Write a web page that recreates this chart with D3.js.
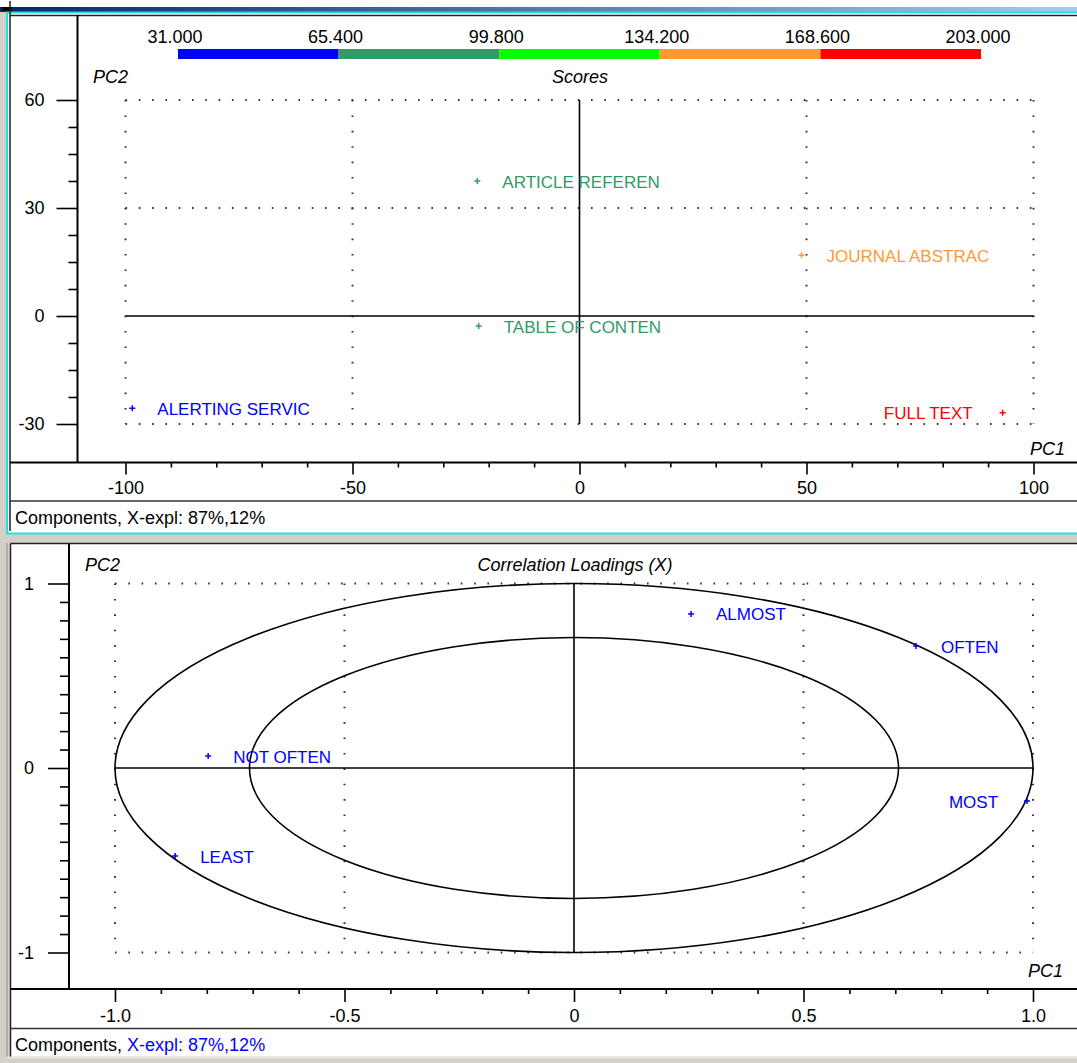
<!DOCTYPE html>
<html><head><meta charset="utf-8">
<script src="https://cdn.jsdelivr.net/npm/d3@7"></script>
<style>
html,body{margin:0;padding:0;background:#d4d0c8;}
svg{display:block;font-family:"Liberation Sans",Arial,sans-serif;}
</style></head>
<body>
<script>
// ---------- data ----------
const scoreNames = ["ALERTING SERVIC","ARTICLE REFEREN","TABLE OF CONTEN","JOURNAL ABSTRAC","FULL TEXT"];
const scorePC1   = [-98.5, -22.5, -22.2, 48.9, 93.2];
const scorePC2   = [-25.6, 37.5, -2.8, 16.9, -26.9];
const scoreBand  = [0, 1, 1, 3, 4];

const bandTicks  = [31.0, 65.4, 99.8, 134.2, 168.6, 203.0];
const bandColors = ["#0000ff","#339966","#00ff00","#ff9933","#ff0000"];

const loadNames = ["ALMOST","OFTEN","MOST","NOT OFTEN","LEAST"];
const loadPC1   = [0.255, 0.745, 0.987, -0.797, -0.869];
const loadPC2   = [0.835, 0.661, -0.179, 0.065, -0.477];
const circleRadii = [1.0, 0.707];

const topXTicks = [-100,-50,0,50,100];
const topXMinor = [-90,-80,-70,-60,-40,-30,-20,-10,10,20,30,40,60,70,80,90];
const topYTicks = [60,30,0,-30];
const topYMinor = [52.5,45,37.5,22.5,15,7.5,-7.5,-15,-22.5];
const topGridX = [-100,-50,50,100];
const topGridY = [60,30,-30];

const botXTicks = [-1,-0.5,0,0.5,1];
const botXMinor = [-0.9,-0.8,-0.7,-0.6,-0.4,-0.3,-0.2,-0.1,0.1,0.2,0.3,0.4,0.6,0.7,0.8,0.9];
const botYTicks = [1,0,-1];
const botYMinor = [0.9,0.8,0.7,0.6,0.5,0.4,0.3,0.2,0.1,-0.1,-0.2,-0.3,-0.4,-0.5,-0.6,-0.7,-0.8,-0.9];
const botGridX = [-1,-0.5,0.5,1];
const botGridY = [1,-1];

const statusText = ["Components, ","X-expl: 87%,12%"];

// ---------- setup ----------
const W = 1077, H = 1063;
const svg = d3.select("body").append("svg").attr("width",W).attr("height",H);
const defs = svg.append("defs");
const grad = defs.append("linearGradient").attr("id","tb").attr("x1","0").attr("x2","1");
grad.append("stop").attr("offset","0").attr("stop-color","#0a246a");
grad.append("stop").attr("offset","1").attr("stop-color","#a6caf0");

const hy = s => s.replace("\u2212","-");
const intFmt = d => hy(d3.format("d")(d));

// window chrome
svg.append("rect").attr("x",0).attr("y",0).attr("width",W).attr("height",H).attr("fill","#d4d0c8");
svg.append("rect").attr("x",0).attr("y",0).attr("width",W).attr("height",7).attr("fill","#ffffff");
svg.append("rect").attr("x",0).attr("y",7).attr("width",W).attr("height",5).attr("fill","url(#tb)");
svg.append("rect").attr("x",2).attr("y",7).attr("width",10).attr("height",4).attr("fill","#000");

// top panel
svg.append("rect").attr("x",7).attr("y",12.5).attr("width",W).attr("height",521).attr("fill","#fff")
  .attr("stroke","#22e0e0").attr("stroke-width",2);
svg.append("path").attr("d","M10,1 V531 M10,15.5 H1077").attr("stroke","#222").attr("stroke-width",1.5).attr("fill","none");
svg.append("path").attr("d","M7,13 V531").attr("stroke","#22e0e0").attr("stroke-width",2);

// bottom panel
svg.append("rect").attr("x",10).attr("y",543.5).attr("width",W).attr("height",513).attr("fill","#fff");
svg.append("path").attr("d","M10.5,543.5 V1057 M10.5,543.5 H1077").attr("stroke","#222").attr("stroke-width",1.5).attr("fill","none");
svg.append("path").attr("d","M7,543 V1057").attr("stroke","#888").attr("stroke-width",1);
svg.append("path").attr("d","M7,1057.5 H1077").attr("stroke","#e8e6e0").attr("stroke-width",2);

const font = 18;
function crossPath(x,y){ return `M${x-3},${y}H${x+3}M${x},${y-3}V${y+3}`; }

function drawPanel(o){
  const g = svg.append("g");
  g.append("path").attr("d",`M${o.axX},${o.top} V${o.axY}`).attr("stroke","#000").attr("stroke-width",2);
  g.append("path").attr("d",`M10,${o.axY} H${W}`).attr("stroke","#000").attr("stroke-width",2);
  g.append("path").attr("d",`M10,${o.sepY} H${W}`).attr("stroke","#333").attr("stroke-width",1.5);

  const x = o.x, y = o.y;
  const [x0,x1] = [x(o.gridX[0]), x(o.gridX[o.gridX.length-1])];
  const [y0,y1] = [y(o.gridY[0]), y(o.gridY[o.gridY.length-1])];
  o.gridX.forEach(v=>{
    g.append("line").attr("x1",x(v)).attr("x2",x(v)).attr("y1",y0).attr("y2",y1)
     .attr("stroke","#333").attr("stroke-width",2).attr("stroke-dasharray","1.6,13.8");
  });
  o.gridY.forEach(v=>{
    g.append("line").attr("x1",x0).attr("x2",x1).attr("y1",y(v)).attr("y2",y(v))
     .attr("stroke","#333").attr("stroke-width",2).attr("stroke-dasharray","1.6,11.7");
  });
  g.append("line").attr("x1",x0).attr("x2",x1).attr("y1",y(0)).attr("y2",y(0)).attr("stroke","#000").attr("stroke-width",1.6);
  g.append("line").attr("x1",x(0)).attr("x2",x(0)).attr("y1",y0).attr("y2",y1).attr("stroke","#000").attr("stroke-width",1.6);

  const ax = g.append("g").attr("transform",`translate(0,${o.axY})`)
    .call(d3.axisBottom(x).tickValues(o.xTicks).tickSize(o.xMajor).tickPadding(7).tickFormat(o.fmt));
  const axm = g.append("g").attr("transform",`translate(0,${o.axY})`)
    .call(d3.axisBottom(x).tickValues(o.xMinor).tickSize(5).tickFormat(""));
  const ay = g.append("g").attr("transform",`translate(${o.axX},0)`)
    .call(d3.axisLeft(y).tickValues(o.yTicks).tickSize(21).tickPadding(o.yPad).tickFormat(intFmt));
  const aym = g.append("g").attr("transform",`translate(${o.axX},0)`)
    .call(d3.axisLeft(y).tickValues(o.yMinor).tickSize(9).tickFormat(""));
  [ax,axm,ay,aym].forEach(a=>{
    a.select(".domain").remove();
    a.selectAll("line").attr("stroke","#000").attr("stroke-width",1.6);
    a.selectAll("text").attr("font-size",font).attr("fill","#000").attr("font-family","Liberation Sans, Arial, sans-serif");
  });

  g.append("text").attr("x",o.pc2X).attr("y",o.pc2Y).attr("font-size",font).attr("font-style","italic").text("PC2");
  g.append("text").attr("x",o.pc1X).attr("y",o.pc1Y).attr("font-size",font).attr("font-style","italic").text("PC1");
  g.append("text").attr("x",o.titleX).attr("y",o.pc2Y).attr("text-anchor","middle").attr("font-size",font).attr("font-style","italic").text(o.title);

  const st = g.append("text").attr("x",15).attr("y",o.statusY).attr("font-size",font);
  st.append("tspan").attr("fill","#000").text(statusText[0]);
  st.append("tspan").attr("fill",o.statusColor).text(statusText[1]);
  return g;
}

// ---------- top: scores ----------
const xTop = d3.scaleLinear().domain([-100,100]).range([125.5,1033.5]);
const yTop = d3.scaleLinear().domain([60,-30]).range([100,424]);
const gTop = drawPanel({x:xTop,y:yTop,axX:77.5,axY:462.5,top:15,sepY:501,
  gridX:topGridX,gridY:topGridY,xTicks:topXTicks,xMinor:topXMinor,yTicks:topYTicks,yMinor:topYMinor,
  xMajor:12,yPad:12,fmt:intFmt,pc2X:93,pc2Y:83,pc1X:1030,pc1Y:455,titleX:580,title:"Scores",
  statusY:524,statusColor:"#000"});

const cb = d3.scaleLinear().domain([bandTicks[0],bandTicks[bandTicks.length-1]]).range([178,981]);
const colorOf = d3.scaleOrdinal().domain(d3.range(bandColors.length)).range(bandColors);
gTop.selectAll("rect.cb").data(bandColors).join("rect")
  .attr("x",(d,i)=>cb(bandTicks[i])).attr("width",(d,i)=>cb(bandTicks[i+1])-cb(bandTicks[i]))
  .attr("y",49).attr("height",10).attr("fill",d=>d);
gTop.selectAll("text.cbl").data(bandTicks).join("text")
  .attr("x",d=>cb(d)-3).attr("y",43).attr("text-anchor","middle").attr("font-size",font)
  .text(d=>d3.format(".3f")(d));

const topMax = d3.max(scorePC1.map(Math.abs));
scoreNames.forEach((n,i)=>{
  const px = xTop(scorePC1[i]), py = yTop(scorePC2[i]);
  const c = colorOf(scoreBand[i]);
  gTop.append("path").attr("d",crossPath(px,py)).attr("stroke",c).attr("stroke-width",1.5);
  const left = scorePC1[i] > 0.9*topMax;
  gTop.append("text").attr("x", left ? px-30 : px+25).attr("y",py+6.5)
    .attr("text-anchor", left ? "end":"start").attr("font-size",17).attr("fill",c).text(n);
});

// ---------- bottom: correlation loadings ----------
const xBot = d3.scaleLinear().domain([-1,1]).range([115,1033]);
const yBot = d3.scaleLinear().domain([1,-1]).range([583.5,952.5]);
const gBot = drawPanel({x:xBot,y:yBot,axX:69,axY:989,top:544,sepY:1028.5,
  gridX:botGridX,gridY:botGridY,xTicks:botXTicks,xMinor:botXMinor,yTicks:botYTicks,yMinor:botYMinor,
  xMajor:13,yPad:14,fmt:d=>d===0?"0":hy(d3.format(".1f")(d)),pc2X:85,pc2Y:571,pc1X:1028,pc1Y:977,
  titleX:575,title:"Correlation Loadings (X)",statusY:1051,statusColor:"#0000ff"});

circleRadii.forEach(r=>{
  gBot.append("ellipse").attr("cx",xBot(0)).attr("cy",yBot(0))
    .attr("rx",xBot(r)-xBot(0)).attr("ry",yBot(0)-yBot(r))
    .attr("fill","none").attr("stroke","#000").attr("stroke-width",1.6);
});
loadNames.forEach((n,i)=>{
  const px = xBot(loadPC1[i]), py = yBot(loadPC2[i]);
  gBot.append("path").attr("d",crossPath(px,py)).attr("stroke","#0000ff").attr("stroke-width",1.5);
  const left = loadPC1[i] > 0.9;
  gBot.append("text").attr("x", left ? px-29 : px+25).attr("y",py+6.5)
    .attr("text-anchor", left ? "end":"start").attr("font-size",17).attr("fill","#0000ff").text(n);
});
</script>
</body></html>
